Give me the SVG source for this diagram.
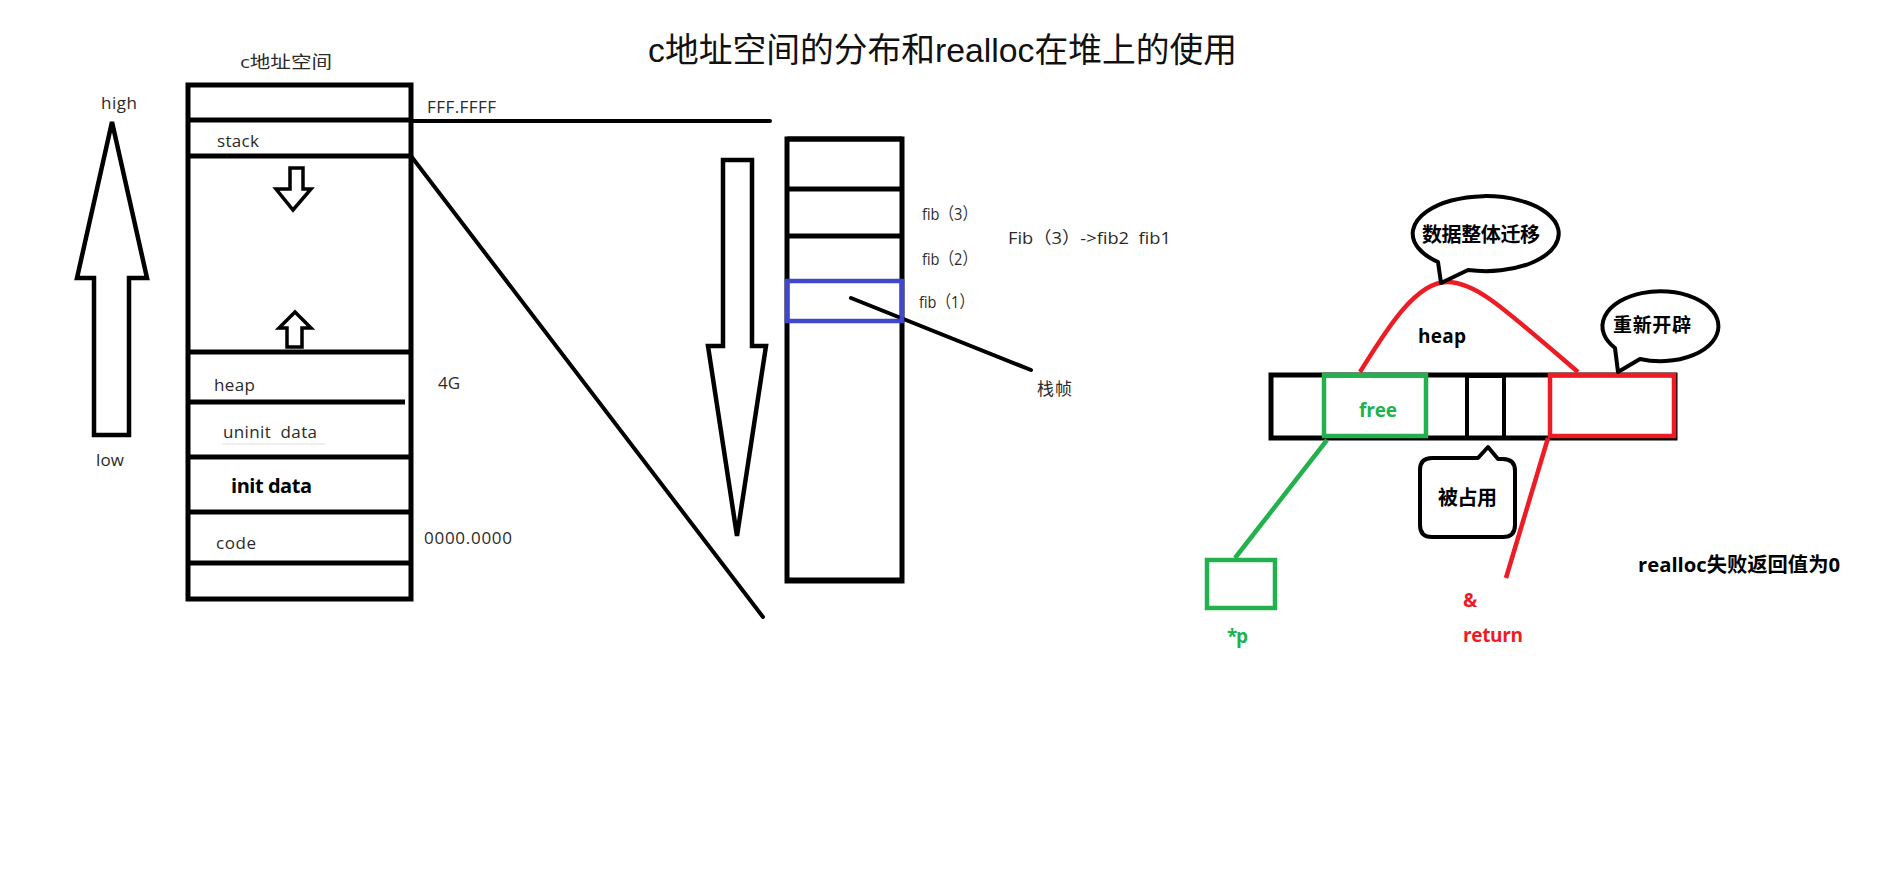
<svg xmlns="http://www.w3.org/2000/svg" width="1883" height="878" viewBox="0 0 1883 878">
<style>
.bg{fill:#fff}
.k{fill:none;stroke:#000;stroke-width:5}
.kt{fill:none;stroke:#000;stroke-width:4}
.ln{stroke:#000;stroke-width:4;fill:none;stroke-linecap:round}
.arr{fill:#fff;stroke:#000;stroke-width:4.5;stroke-linejoin:miter}
.sarr{fill:#fff;stroke:#000;stroke-width:3.5}
.g{fill:none;stroke:#22b14c;stroke-width:4.5}
.r{fill:none;stroke:#ed1c24;stroke-width:4.5}
.blue{fill:none;stroke:#3f48cc;stroke-width:4.5}
.bub{fill:#fff;stroke:#000;stroke-width:4;stroke-linejoin:round}
.lab{font-family:"Open Sans","Liberation Sans","Noto Sans CJK SC",sans-serif;font-size:17px;fill:#2a2a2a}
.bold{font-family:"Open Sans","Liberation Sans","Noto Sans CJK SC",sans-serif;font-weight:bold;fill:#000}
.title{font-family:"Liberation Sans","Noto Sans CJK SC",sans-serif;font-size:34px;fill:#111}
</style>
<rect class="bg" x="0" y="0" width="1883" height="878"/>
<text class="title" x="648" y="62" textLength="589" lengthAdjust="spacingAndGlyphs">c地址空间的分布和realloc在堆上的使用</text>

<g id="address-space">
<text class="lab" x="240" y="68" textLength="92" lengthAdjust="spacingAndGlyphs">c地址空间</text>
<rect class="k" x="188" y="85" width="223" height="514"/>
<line class="k" x1="188" y1="120" x2="411" y2="120"/>
<line class="k" x1="188" y1="156" x2="411" y2="156"/>
<line class="k" x1="188" y1="352" x2="413" y2="352"/>
<line class="k" x1="188" y1="402" x2="405" y2="402"/>
<line class="k" x1="188" y1="457" x2="411" y2="457"/>
<line class="k" x1="188" y1="512" x2="413" y2="512"/>
<line class="k" x1="188" y1="563" x2="411" y2="563"/>
<polygon class="sarr" points="290,168 303,168 303,189 311,189 293,210 276,189 290,189"/>
<polygon class="sarr" points="295,312 311,328 302,328 302,347 287,347 287,328 279,328"/>
<text class="lab" x="217" y="147" textLength="42">stack</text>
<text class="lab" x="214" y="391" textLength="41">heap</text>
<text class="lab" x="223" y="438" textLength="94" xml:space="preserve">uninit  data</text>
<line x1="222" y1="444" x2="325" y2="444" stroke="#ddd" stroke-width="1"/>
<text class="bold" x="231" y="493" font-size="20" textLength="81">init data</text>
<text class="lab" x="216" y="549" textLength="40">code</text>
<text class="lab" x="427" y="113" textLength="69">FFF.FFFF</text>
<text class="lab" x="438" y="389" textLength="22">4G</text>
<text class="lab" x="424" y="544" textLength="88">0000.0000</text>
</g>

<g id="high-low-arrow">
<polygon class="arr" points="112,122 147,278 129,278 129,435 94,435 94,278 77,278"/>
<text class="lab" x="101" y="109" textLength="36">high</text>
<text class="lab" x="96" y="466" textLength="28">low</text>
</g>

<g id="connectors">
<line class="ln" x1="411" y1="121" x2="770" y2="121"/>
<line class="ln" x1="411" y1="156" x2="763" y2="617"/>
<line class="ln" x1="851" y1="298" x2="1031" y2="370"/>
</g>

<g id="stack-growth-arrow">
<polygon class="arr" points="723,160 752,160 752,346 766,346 737,536 708,346 723,346"/>
</g>

<g id="stack-frames">
<rect class="k" x="787" y="139" width="115" height="442"/>
<line class="k" x1="787" y1="139" x2="902" y2="139" stroke-width="7"/>
<line class="k" x1="787" y1="580" x2="902" y2="580" stroke-width="7"/>
<line class="k" x1="787" y1="189" x2="902" y2="189"/>
<line class="k" x1="787" y1="236" x2="904" y2="236"/>
<rect class="blue" x="787" y="281" width="115" height="40"/>
<text class="lab" x="922" y="220" font-size="16" textLength="55" lengthAdjust="spacingAndGlyphs">fib（3）</text>
<text class="lab" x="922" y="265" font-size="16" textLength="55" lengthAdjust="spacingAndGlyphs">fib（2）</text>
<text class="lab" x="919" y="308" font-size="16" textLength="55" lengthAdjust="spacingAndGlyphs">fib（1）</text>
<text class="lab" x="1008" y="244" textLength="163" lengthAdjust="spacingAndGlyphs" xml:space="preserve">Fib（3）-&gt;fib2  fib1</text>
<text class="lab" x="1037" y="395" textLength="35">栈帧</text>
</g>

<g id="heap-bar">
<rect class="k" x="1271" y="375" width="404" height="63"/>
<rect class="kt" x="1467" y="376" width="37" height="62"/>
<rect class="g" x="1324" y="375" width="102" height="61"/>
<rect class="r" x="1550" y="375" width="124" height="61"/>
<text class="bold" x="1359" y="417" font-size="19" style="fill:#22b14c" textLength="38">free</text>
<text class="bold" x="1418" y="343" font-size="19" textLength="48">heap</text>
</g>

<g id="heap-connectors">
<path class="r" d="M1360,372 C1385,332 1415,282 1447,282 C1475,282 1500,305 1578,372"/>
<line class="g" x1="1327" y1="440" x2="1235" y2="558"/>
<line class="r" x1="1548" y1="438" x2="1506" y2="578"/>
</g>

<g id="bubble-move">
<path class="bub" d="M1438,262 A73,37.5 0 1 1 1468,270 L1441,283 Z"/>
<text class="bold" x="1422" y="242" font-size="20" textLength="118">数据整体迁移</text>
</g>

<g id="bubble-new">
<path class="bub" d="M1615,348 A58,35 0 1 1 1640,359 L1618,372 Z"/>
<text class="bold" x="1613" y="332" font-size="19" textLength="78">重新开辟</text>
</g>

<g id="bubble-used">
<path class="bub" d="M1432,458 L1478,458 L1488,447 L1498,459 L1503,459 Q1515,459 1515,471 L1515,525 Q1515,537 1503,537 L1432,537 Q1420,537 1420,525 L1420,470 Q1420,458 1432,458 Z"/>
<text class="bold" x="1438" y="505" font-size="20" textLength="59">被占用</text>
</g>

<g id="pointer-p">
<rect class="g" x="1207" y="560" width="68" height="48"/>
<text class="bold" x="1227" y="643" font-size="19" style="fill:#22b14c" textLength="21">*p</text>
</g>

<g id="return-label">
<text class="bold" x="1463" y="607" font-size="19" style="fill:#ed1c24">&amp;</text>
<text class="bold" x="1463" y="642" font-size="19" style="fill:#ed1c24" textLength="60">return</text>
</g>

<g id="note">
<text class="bold" x="1638" y="572" font-size="20" textLength="202" lengthAdjust="spacingAndGlyphs">realloc失败返回值为0</text>
</g>
</svg>
